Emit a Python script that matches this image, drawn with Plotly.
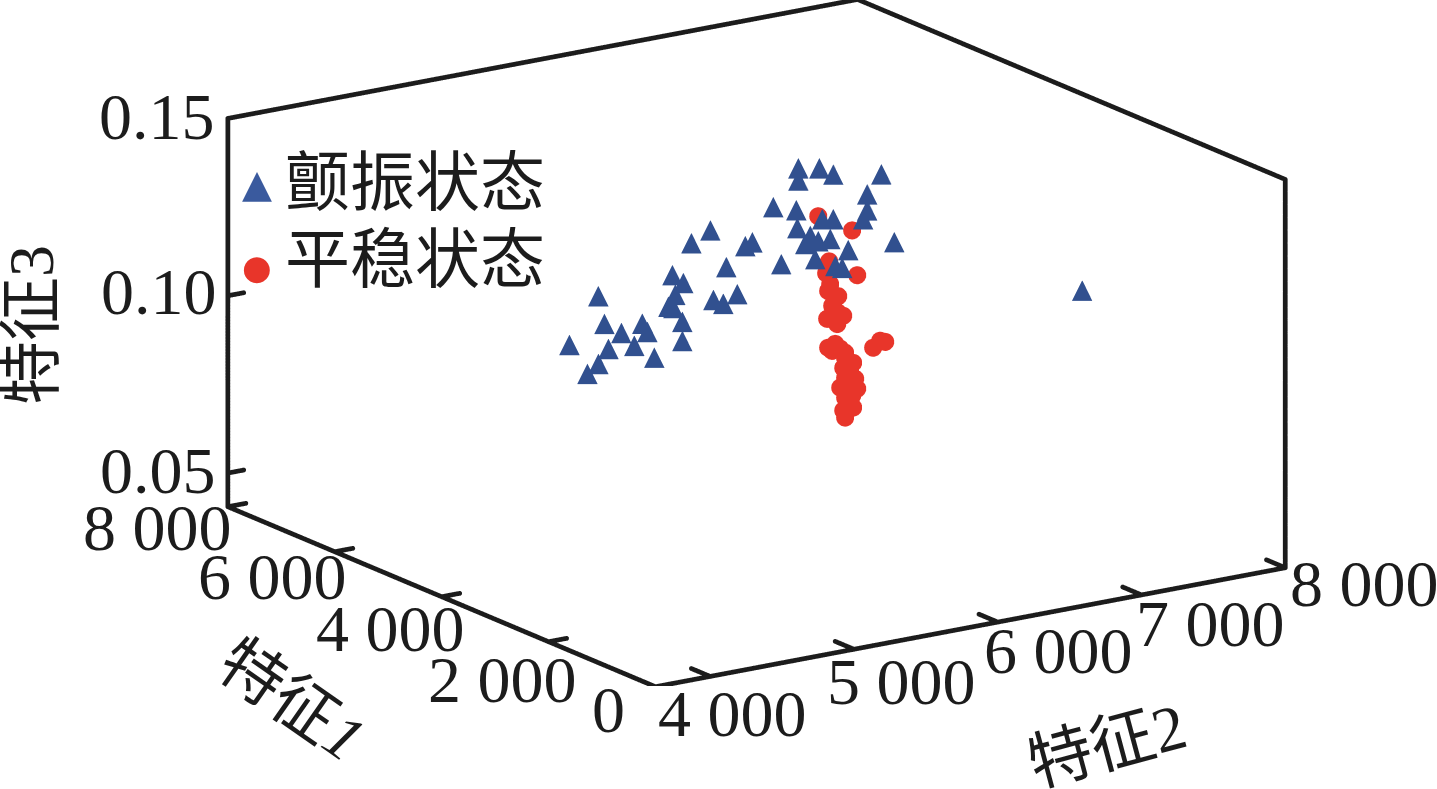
import numpy as np
import plotly.graph_objects as go

x_range = [8000, 0]
y_range = [3620, 8000]
z_range = [0.0405, 0.15]

x_ticks = [0, 2000, 4000, 6000, 8000]
y_ticks = [4000, 5000, 6000, 7000, 8000]
z_ticks = [0.05, 0.10, 0.15]
x_labels = ["0", "2 000", "4 000", "6 000", "8 000"]
y_labels = ["4 000", "5 000", "6 000", "7 000", "8 000"]
z_labels = ["0.05", "0.10", "0.15"]

chatter_y = [5190,5058,5433,5301,4926,5002,4411,4946,5211,5280,5377,4933,4995,4453,4571,4717,4752,4995,4210,4481,4661,4800,4411,4335,4898,5482,
             5802,5948,6045,5802,6379,6281,5628,5788,6281,6253,5968,6045,5795,5885,5850,5941,6024,6149,5920,5683,6469,6059,6107,7776]
chatter_z = [.1369,.1343,.1306,.1257,.1263,.1235,.1243,.1206,.1171,.1155,.1175,.1170,.1126,.1162,.1127,.1142,.1116,.1072,.1121,.1089,.1084,.1040,.1052,.1030,.1176,.1313,
             .1497,.1486,.1461,.1463,.1436,.1387,.1401,.1380,.1342,.1319,.1341,.1335,.1329,.1300,.1280,.1281,.1281,.1240,.1232,.1236,.1238,.1202,.1193,.1001]
chatter_x = [3200] * len(chatter_y)

stable_y = [6314,6509,6314,6307,6356,6335,6300,6412,6370,6335,6391,6481,6412,6425,6495,6391,6509,6425,6481,6425,6669,6620,6474,6425,6460,6704,
            6321,6377,6321,6377,6356,6307,6425,6460,6460,6446,6412,6474,6293,6238]
stable_z = [.1145,.1091,.1109,.1062,.1036,.1018,.0984,.0984,.0964,.0891,.0893,.0846,.0837,.0808,.0800,.0783,.0771,.0752,.0720,.0696,.0894,.0878,.1220,.0864,.0755,.0888,
            .1080,.1042,.0982,.0995,.0909,.0902,.0879,.0831,.0792,.0728,.0717,.0754,.1113,.1278]
stable_x = [4000] * len(stable_y)

BLACK = "#1c1c1c"
BLUE = "#31508f"
RED = "#e8352a"
W, H = 1437, 789
SERIF = "Liberation Serif, Noto Sans CJK SC"
EYE_K = 2.5

x0, x1 = x_range[1], x_range[0]
y0, y1 = y_range
z0, z1 = z_range

# open box frame and tick marks, from the axis ranges and tick lists
segments = [
    ((x0, y0, z0), (x1, y0, z0), 320), ((x1, y0, z0), (x1, y0, z1), 260),
    ((x1, y0, z1), (x1, y1, z1), 430), ((x1, y1, z1), (x0, y1, z1), 320),
    ((x0, y1, z1), (x0, y1, z0), 270), ((x0, y1, z0), (x0, y0, z0), 430),
]
segments += [((t, y0, z0), (t, y0 + 125, z0), 14) for t in x_ticks]
segments += [((x0, t, z0), (x0 + 350, t, z0), 14) for t in y_ticks]
segments += [((x1, y0, t), (x1, y0 + 110, t), 12) for t in z_ticks]
fx, fy, fz = [], [], []
for a, b, n in segments:
    fx += list(np.linspace(a[0], b[0], n))
    fy += list(np.linspace(a[1], b[1], n))
    fz += list(np.linspace(a[2], b[2], n))

fig = go.Figure()
fig.add_trace(go.Scatter3d(x=fx, y=fy, z=fz, mode="markers", name="frame", showlegend=False,
                           hoverinfo="skip",
                           marker=dict(color=BLACK, size=2.8, line=dict(width=0))))
fig.add_trace(go.Scatter3d(x=stable_x, y=stable_y, z=stable_z, mode="markers", name="平稳状态",
                           marker=dict(color=RED, size=10.5, symbol="circle", line=dict(width=0))))
fig.add_trace(go.Scatter3d(x=chatter_x, y=chatter_y, z=chatter_z, mode="text", name="颤振状态",
                           text=["▲"] * len(chatter_y), textposition="middle center",
                           textfont=dict(color=BLUE, size=27, family="DejaVu Sans")))

scene_ann = []
def tick_label(x, y, z, text, dx, dy):
    scene_ann.append(dict(x=x, y=y, z=z, text=text, showarrow=False, xshift=dx, yshift=-dy,
                          xanchor="center", yanchor="middle",
                          font=dict(family=SERIF, size=66, color=BLACK)))

x_off = [(-46, 22), (-45, 37), (-51, 31), (-62, 25), (-70, 21)]
y_off = [(23, 37), (48, 32), (62, 28), (70, 28), (80, 15)]
z_off = [(-69, -3), (-68, -4), (-70, -2)]
for t, s, o in zip(x_ticks, x_labels, x_off):
    tick_label(t, y0, z0, s, *o)
for t, s, o in zip(y_ticks, y_labels, y_off):
    tick_label(x0, t, z0, s, *o)
for t, s, o in zip(z_ticks, z_labels, z_off):
    tick_label(x1, y0, t, s, *o)

axis = dict(showgrid=False, zeroline=False, showline=False, showticklabels=False,
            showbackground=False, showspikes=False, ticks="", title=dict(text=""))

def paper(px, py, text, size, color=BLACK, angle=0, family=SERIF):
    return dict(xref="paper", yref="paper", x=px / W, y=1 - py / H, text=text, showarrow=False,
                xanchor="center", yanchor="middle", textangle=angle,
                font=dict(family=family, size=size, color=color))

fig.update_layout(
    width=W, height=H, margin=dict(l=0, r=0, t=0, b=0), paper_bgcolor="white",
    showlegend=False,
    scene=dict(
        domain=dict(x=[0.054, 0.998], y=[0.13, 1]),
        xaxis=dict(range=x_range, **axis),
        yaxis=dict(range=y_range, **axis),
        zaxis=dict(range=z_range, **axis),
        aspectmode="manual", aspectratio=dict(x=2.24, y=2.21, z=1.18),
        camera=dict(projection=dict(type="orthographic"), up=dict(x=0, y=0, z=1),
                    center=dict(x=0, y=0, z=0),
                    eye=dict(x=0.797 * EYE_K, y=-0.534 * EYE_K, z=0.282 * EYE_K)),
        annotations=scene_ann,
    ),
    annotations=[
        paper(292, 700, "特征<i>1</i>", 64, angle=35),
        paper(1107, 745, "特征2", 64, angle=-15),
        paper(31, 325, "特征3", 64, angle=-90),
        paper(415, 183, "颤振状态", 65),
        paper(415, 260, "平稳状态", 65),
        paper(257, 183, "▲", 39, color="#3a5a9e", family="DejaVu Sans"),
        paper(257, 267, "●", 34, color=RED, family="DejaVu Sans"),
    ],
)
fig.write_html("out.html", config={"displayModeBar": False},
               post_script="document.body.style.margin='0';")
